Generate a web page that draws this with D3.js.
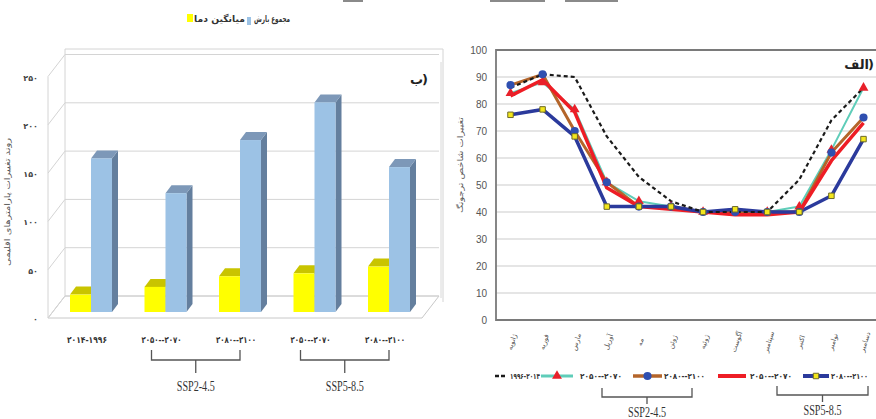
<!DOCTYPE html>
<html>
<head>
<meta charset="utf-8">
<script src="https://cdn.jsdelivr.net/npm/d3@7"></script>
<style>
  body { margin: 0; background: #fff; }
  svg { display: block; }
</style>
</head>
<body>
<svg id="chart" width="876" height="419"></svg>
<script>
// ---- left chart (ب) data ----
const periods = ['۲۰۱۴-۱۹۹۶', '۲۰۵۰--۲۰۷۰', '۲۰۸۰--۲۱۰۰', '۲۰۵۰--۲۰۷۰', '۲۰۸۰--۲۱۰۰'];
const tempMean = [18, 26, 37, 40, 47];
const rainTotal = [159, 123, 178, 217, 150];
const barTicks = [0, 50, 100, 150, 200, 250];
const barTickLabels = ['۰', '۵۰', '۱۰۰', '۱۵۰', '۲۰۰', '۲۵۰'];
const barScenarios = [
  { name: 'SSP2-4.5', from: 1, to: 2 },
  { name: 'SSP5-8.5', from: 3, to: 4 },
];

// ---- right chart (الف) data ----
const months = ['ژانویه', 'فوریه', 'مارس', 'آوریل', 'مه', 'ژوئن', 'ژوئیه', 'آگوست', 'سپتامبر', 'اکتبر', 'نوامبر', 'دسامبر'];
const baseline = [86, 91, 90, 68, 53, 44, 40, 40, 40, 52, 74, 86];
const ssp245_2050 = [84, 88, 78, 51, 44, 42, 40, 40, 40, 42, 63, 86];
const ssp245_2080 = [87, 91, 70, 51, 42, 42, 40, 40, 40, 40, 62, 75];
const ssp585_2050 = [83, 89, 77, 49, 42, 41, 40, 39, 39, 40, 59, 73];
const ssp585_2080 = [76, 78, 68, 42, 42, 42, 40, 41, 40, 40, 46, 67];
const lineTicks = [0, 10, 20, 30, 40, 50, 60, 70, 80, 90, 100];

const svg = d3.select('#chart');
const arabicFont = '"DejaVu Sans", "Noto Sans", sans-serif';

// leftovers of a cropped figure above
svg.append('g').selectAll('rect')
  .data([[343, 20], [490, 55], [565, 53]])
  .join('rect')
  .attr('x', (d) => d[0]).attr('y', 0)
  .attr('width', (d) => d[1]).attr('height', 2)
  .attr('fill', '#8a8a8a');

// panel tag: word + closing paren drawn apart so bidi can't flip it
function panelTag(xRight, yBase, word) {
  const g = svg.append('g')
    .attr('font-family', arabicFont)
    .attr('font-size', '13px')
    .attr('font-weight', 'bold')
    .attr('fill', '#222');
  g.append('text')
    .attr('x', xRight).attr('y', yBase)
    .attr('text-anchor', 'end')
    .text(')');
  g.append('text')
    .attr('x', xRight - 5).attr('y', yBase)
    .attr('text-anchor', 'end')
    .text(word);
}

// =============== LEFT: 3D bar chart ===============
const depth = { dx: 17, dy: -22 };
const yFront = d3.scaleLinear().domain([0, 250]).range([318, 76.5]);
const yBar = d3.scaleLinear().domain([0, 250]).range([312, 70.5]);
const wallLeft = 48;
const wallRight = 422;
const groupX = d3.scalePoint().domain(d3.range(periods.length)).range([91, 389]);
const subX = d3.scaleBand().domain(['temp', 'rain']).range([-21, 21]);

const walls = svg.append('g').attr('stroke', '#d4d4d4').attr('fill', 'none').attr('stroke-width', 1);
// floor
walls.append('path')
  .attr('d', `M${wallLeft},${yFront(0)}H${wallRight}l${depth.dx},${depth.dy}H${wallLeft + depth.dx}Z`)
  .attr('stroke', '#c8c8c8');
// back grid lines
walls.selectAll('.bg')
  .data(barTicks)
  .join('line')
  .attr('x1', wallLeft + depth.dx).attr('x2', wallRight + depth.dx)
  .attr('y1', (d) => yFront(d) + depth.dy).attr('y2', (d) => yFront(d) + depth.dy);
// side wall diagonals
walls.selectAll('.sd')
  .data(barTicks)
  .join('line')
  .attr('x1', wallLeft).attr('x2', wallLeft + depth.dx)
  .attr('y1', (d) => yFront(d)).attr('y2', (d) => yFront(d) + depth.dy);
walls.append('line')
  .attr('x1', wallLeft).attr('x2', wallLeft)
  .attr('y1', yFront(0)).attr('y2', yFront(250));
walls.append('line')
  .attr('x1', wallLeft + depth.dx).attr('x2', wallLeft + depth.dx)
  .attr('y1', yFront(0) + depth.dy).attr('y2', 49);
walls.append('line')
  .attr('x1', wallLeft + depth.dx).attr('x2', wallRight + depth.dx + 4)
  .attr('y1', 49).attr('y2', 49);
walls.append('line')
  .attr('x1', wallRight + depth.dx + 4).attr('x2', wallRight + depth.dx + 4)
  .attr('y1', 49).attr('y2', yFront(0) + depth.dy + 6);

// y labels
svg.append('g')
  .selectAll('text')
  .data(barTicks)
  .join('text')
  .attr('x', 38)
  .attr('y', (d) => yFront(d) + 4)
  .attr('text-anchor', 'end')
  .attr('font-family', arabicFont)
  .attr('font-size', '8px')
  .attr('font-weight', 'bold')
  .attr('fill', '#444')
  .text((d, i) => barTickLabels[i]);

// y title
svg.append('text')
  .attr('transform', 'translate(10,202) rotate(-90)')
  .attr('text-anchor', 'middle')
  .attr('font-family', arabicFont)
  .attr('font-size', '8px')
  .attr('fill', '#555')
  .attr('textLength', 128)
  .attr('lengthAdjust', 'spacingAndGlyphs')
  .text('روند تغییرات پارامترهای اقلیمی');

// bars
const barColors = {
  temp: { front: '#ffff00', top: '#c9c400', side: '#b0ac00' },
  rain: { front: '#9cc2e5', top: '#7d98b8', side: '#647f9e' },
};
const bd = { dx: 6, dy: -8 };
const barData = [];
periods.forEach((p, i) => {
  barData.push({ i, key: 'temp', value: tempMean[i] });
  barData.push({ i, key: 'rain', value: rainTotal[i] });
});
const bars = svg.append('g')
  .selectAll('g')
  .data(barData)
  .join('g');
bars.each(function (d) {
  const g = d3.select(this);
  const x0 = groupX(d.i) + subX(d.key);
  const w = subX.bandwidth();
  const yt = yBar(d.value);
  const yb = yBar(0);
  const c = barColors[d.key];
  g.append('path')
    .attr('d', `M${x0 + w},${yb}V${yt}l${bd.dx},${bd.dy}V${yb + bd.dy}Z`)
    .attr('fill', c.side);
  g.append('path')
    .attr('d', `M${x0},${yt}H${x0 + w}l${bd.dx},${bd.dy}H${x0 + bd.dx}Z`)
    .attr('fill', c.top);
  g.append('rect')
    .attr('x', x0).attr('y', yt)
    .attr('width', w).attr('height', yb - yt)
    .attr('fill', c.front);
});

// x labels
const labelX = (i) => groupX(i) - 4;
svg.append('g')
  .selectAll('text')
  .data(periods)
  .join('text')
  .attr('x', (d, i) => labelX(i))
  .attr('y', 343)
  .attr('text-anchor', 'middle')
  .attr('font-family', arabicFont)
  .attr('font-size', '9px')
  .attr('font-weight', 'bold')
  .attr('fill', '#333')
  .attr('textLength', 40)
  .attr('lengthAdjust', 'spacingAndGlyphs')
  .text((d) => d);

function brace(g, x0, x1, top, bottom, stemEnd, label, labelY) {
  g.append('path')
    .attr('d', `M${x0},${top}V${bottom}H${x1}V${top}M${(x0 + x1) / 2},${bottom}V${stemEnd}`)
    .attr('fill', 'none')
    .attr('stroke', '#555')
    .attr('stroke-width', 1.3);
  g.append('text')
    .attr('x', (x0 + x1) / 2)
    .attr('y', labelY)
    .attr('text-anchor', 'middle')
    .attr('font-family', '"Liberation Serif", "DejaVu Serif", serif')
    .attr('font-size', '15px')
    .attr('fill', '#333')
    .attr('textLength', 38)
    .attr('lengthAdjust', 'spacingAndGlyphs')
    .text(label);
}
const braceG = svg.append('g');
barScenarios.forEach((s) => {
  brace(braceG, labelX(s.from) - 10, labelX(s.to) + 4, 350, 360, 373, s.name, 391);
});

// legend (left)
const legL = svg.append('g')
  .attr('font-family', arabicFont)
  .attr('font-size', '9px')
  .attr('font-weight', 'bold')
  .attr('fill', '#333');
legL.append('rect').attr('x', 187).attr('y', 14).attr('width', 6).attr('height', 8).attr('fill', '#ffff00');
legL.append('text').attr('x', 194).attr('y', 22).attr('textLength', 51).attr('lengthAdjust', 'spacingAndGlyphs').text('میانگین دما');
legL.append('rect').attr('x', 247).attr('y', 17).attr('width', 4).attr('height', 8).attr('fill', '#9cc2e5');
legL.append('text').attr('x', 254).attr('y', 22).attr('textLength', 36).attr('lengthAdjust', 'spacingAndGlyphs').text('مجموع بارش');

panelTag(428, 84, 'ب');

// =============== RIGHT: line chart ===============
const x = d3.scalePoint().domain(months).range([510.5, 863.5]);
const y = d3.scaleLinear().domain([0, 100]).range([320, 50]);
const plotL = 496;
const plotR = 880;

svg.append('line')
  .attr('x1', 441).attr('x2', 441).attr('y1', 62).attr('y2', 298)
  .attr('stroke', '#d8d8d8');

svg.append('g')
  .selectAll('line')
  .data(lineTicks.filter((d) => d > 0 && d < 100))
  .join('line')
  .attr('x1', plotL).attr('x2', plotR)
  .attr('y1', (d) => y(d)).attr('y2', (d) => y(d))
  .attr('stroke', '#dcdcdc')
  .attr('stroke-width', 1.5);

svg.append('path')
  .attr('d', `M${plotR},${y(100)}H${plotL}V${y(0)}H${plotR}`)
  .attr('fill', 'none')
  .attr('stroke', '#7a7a7a')
  .attr('stroke-width', 1.8);

const yAxis = svg.append('g')
  .attr('transform', `translate(${plotL},0)`)
  .call(d3.axisLeft(y).tickValues(lineTicks).tickSize(0).tickPadding(9));
yAxis.select('.domain').remove();
yAxis.selectAll('text')
  .attr('font-family', '"Liberation Sans Narrow", "Liberation Sans", sans-serif')
  .attr('font-size', '10px')
  .attr('fill', '#555');

svg.append('text')
  .attr('transform', 'translate(463,165) rotate(-90)')
  .attr('text-anchor', 'middle')
  .attr('font-family', arabicFont)
  .attr('font-size', '8px')
  .attr('fill', '#555')
  .attr('textLength', 96)
  .attr('lengthAdjust', 'spacingAndGlyphs')
  .text('تغییرات شاخص ترجونگ');

svg.append('g')
  .selectAll('text')
  .data(months)
  .join('text')
  .attr('transform', (d) => `translate(${x(d) + 2},342) rotate(-72)`)
  .attr('text-anchor', 'middle')
  .attr('dominant-baseline', 'middle')
  .attr('font-family', arabicFont)
  .attr('font-size', '7px')
  .attr('fill', '#555')
  .text((d) => d);

const series = [
  { values: ssp245_2050, color: '#5fcdb9', width: 2, dash: null, marker: 'triangle' },
  { values: ssp245_2080, color: '#b4652a', width: 3, dash: null, marker: 'circle' },
  { values: ssp585_2050, color: '#ee1d25', width: 3.5, dash: null, marker: null },
  { values: ssp585_2080, color: '#2b3a9c', width: 3.5, dash: null, marker: 'square' },
  { values: baseline, color: '#1a1a1a', width: 2.2, dash: '4,3', marker: null },
];
const line = d3.line().x((d, i) => x(months[i])).y((d) => y(d));

svg.append('g')
  .selectAll('path')
  .data(series)
  .join('path')
  .attr('d', (s) => line(s.values))
  .attr('fill', 'none')
  .attr('stroke', (s) => s.color)
  .attr('stroke-width', (s) => s.width)
  .attr('stroke-dasharray', (s) => s.dash)
  .attr('stroke-linejoin', 'round');

const markerStyle = {
  triangle: { type: d3.symbolTriangle, size: 42, fill: '#e8202a', stroke: 'none' },
  circle: { type: d3.symbolCircle, size: 52, fill: '#2f4fb0', stroke: 'none' },
  square: { type: d3.symbolSquare, size: 30, fill: '#f2e61c', stroke: '#6e6a2a' },
};
function drawMarker(g, kind, cx, cy) {
  const m = markerStyle[kind];
  g.append('path')
    .attr('transform', `translate(${cx},${cy})`)
    .attr('d', d3.symbol().type(m.type).size(m.size)())
    .attr('fill', m.fill)
    .attr('stroke', m.stroke)
    .attr('stroke-width', 1);
}
const markG = svg.append('g');
series.filter((s) => s.marker).forEach((s) => {
  s.values.forEach((v, i) => drawMarker(markG, s.marker, x(months[i]), y(v)));
});

panelTag(874, 69, 'الف');

// legend (right)
const legendItems = [
  { s: 4, x0: 495, x1: 506, label: '۱۹۹۶-۲۰۱۴', lx: 510, lw: 30 },
  { s: 0, x0: 541, x1: 573, label: '۲۰۵۰--۲۰۷۰', lx: 580, lw: 42 },
  { s: 1, x0: 633, x1: 662, label: '۲۰۸۰--۲۱۰۰', lx: 664, lw: 41 },
  { s: 2, x0: 718, x1: 746, label: '۲۰۵۰--۲۰۷۰', lx: 750, lw: 42 },
  { s: 3, x0: 803, x1: 829, label: '۲۰۸۰--۲۱۰۰', lx: 831, lw: 37 },
];
const legR = svg.append('g');
const ly = 376;
legendItems.forEach((it) => {
  const s = series[it.s];
  legR.append('line')
    .attr('x1', it.x0).attr('x2', it.x1).attr('y1', ly).attr('y2', ly)
    .attr('stroke', s.color)
    .attr('stroke-width', s.dash ? 2.5 : Math.max(3, s.width + 0.5))
    .attr('stroke-dasharray', s.dash ? '4,2' : null);
  if (s.marker) drawMarker(legR, s.marker, (it.x0 + it.x1) / 2, ly);
  legR.append('text')
    .attr('x', it.lx).attr('y', ly + 3)
    .attr('font-family', arabicFont)
    .attr('font-size', '8px')
    .attr('font-weight', 'bold')
    .attr('fill', '#333')
    .attr('textLength', it.lw)
    .attr('lengthAdjust', 'spacingAndGlyphs')
    .text(it.label);
});
brace(legR, 602, 692, 388, 397, 404, 'SSP2-4.5', 417);
brace(legR, 777, 868, 386, 395, 402, 'SSP5-8.5', 415);
</script>
</body>
</html>
